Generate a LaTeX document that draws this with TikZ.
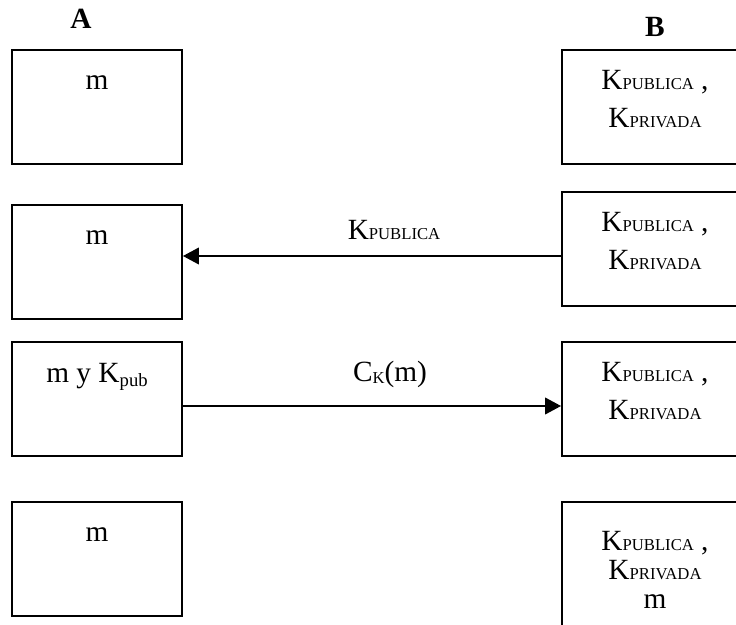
\documentclass[tikz,border=0pt]{standalone}
\usepackage{fontspec}
\setmainfont{Liberation Serif}
\usetikzlibrary{arrows.meta}
\newcommand{\chico}[1]{{\fontsize{12.5}{15}\selectfont #1}}
\newcommand{\kpub}{K\chico{PUBLICA} ,}
\newcommand{\kpriv}{K\chico{PRIVADA}}

\tikzset{every picture/.style={line width=1.4pt}}

\begin{document}
\begin{tikzpicture}[x=0.75pt,y=0.75pt,yscale=-1,xscale=1,
	cajaA/.style={draw, rectangle, inner sep=0pt, minimum width=127.5pt, minimum height=85.5pt},
	cajaB/.style={draw, rectangle, inner sep=0pt, minimum width=139.5pt, minimum height=85.5pt},
	texto/.style={inner sep=0pt, anchor=base, align=center, font=\fontsize{22}{28.5}\selectfont},
	flecha/.style={-{Triangle[length=12pt,width=12.5pt]}}]
	\clip (0,0) rectangle (736,625); %set diagram size 736 x 625

	%Shape: Rectangle, lado A
	\node [cajaA] (a1) at (97,107) {};
	\node [cajaA] (a2) at (97,262) {};
	\node [cajaA] (a3) at (97,399) {};
	\node [cajaA] (a4) at (97,559) {};
	%Shape: Rectangle, lado B
	\node [cajaB] (b1) at (655,107) {};
	\node [cajaB] (b2) at (655,249) {};
	\node [cajaB] (b3) at (655,399) {};
	\node [cajaB, minimum height=103.5pt] (b4) at (655,571) {};

	% Text Node
	\node [texto, font=\fontsize{22}{24}\selectfont\bfseries] (tA) at (81,28) {A};
	% Text Node
	\node [texto, font=\fontsize{22}{24}\selectfont\bfseries] (tB) at (655,36) {B};
	% Text Node
	\node [texto] (m1) at (97,89) {m};
	\node [texto] (m2) at (97,244) {m};
	\node [texto] (m3) at (97,382) {m y K\raisebox{-3pt}{\fontsize{14}{16}\selectfont pub}};
	\node [texto] (m4) at (97,541) {m};
	% Text Node (base = last line)
	\node [texto] (k1) at (655,127) {\kpub\\\kpriv};
	\node [texto] (k2) at (655,269) {\kpub\\\kpriv};
	\node [texto] (k3) at (655,419) {\kpub\\\kpriv};
	\node [texto, font=\fontsize{22}{21.5}\selectfont] (k4) at (655,608) {\kpub\\\kpriv\\m};

	%Straight Lines, flechas
	\coordinate (y2) at (0,256);
	\coordinate (y3) at (0,406);
	\draw [flecha] (b2.west |- y2) -- (a2.east |- y2);
	\draw [flecha] (a3.east |- y3) -- (b3.west |- y3);
	% Text Node
	\node [texto] (lk) at (394,239) {K\chico{PUBLICA}};
	\node [texto] (lc) at (390,381) {C\raisebox{-2pt}{\chico{K}}(m)};
\end{tikzpicture}
\end{document}
